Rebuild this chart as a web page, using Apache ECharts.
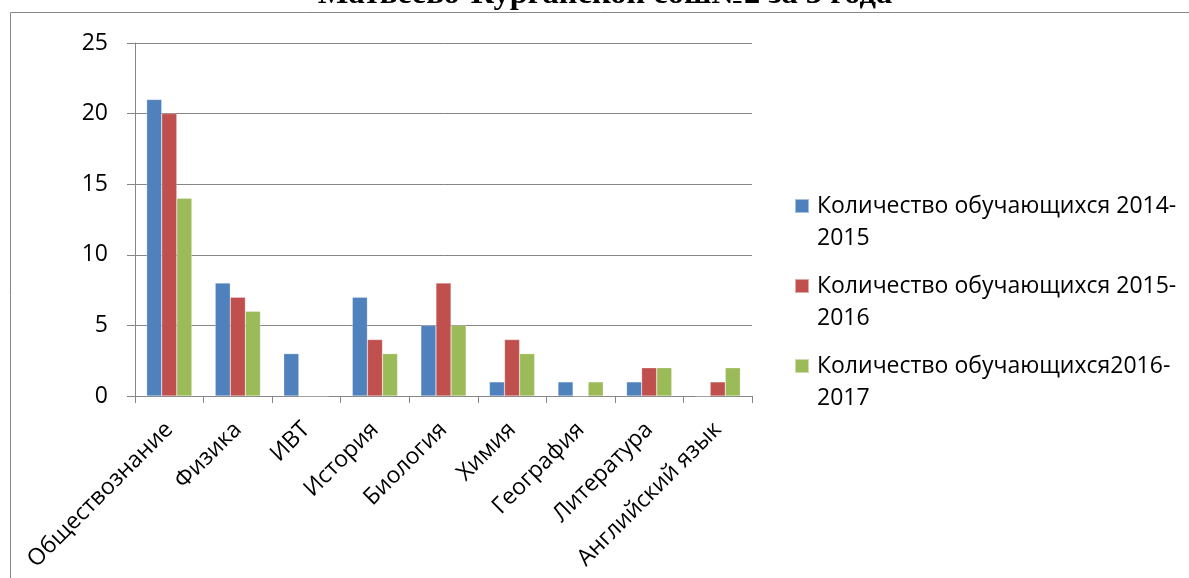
<!DOCTYPE html>
<html>
<head>
<meta charset="utf-8">
<script src="https://cdn.jsdelivr.net/npm/echarts@6/dist/echarts.min.js"></script>
<style>
html,body{margin:0;padding:0;background:#fff;}
#c{width:1189px;height:578px;}
</style>
</head>
<body>
<div id="c"></div>
<script>
const categories = ['Обществознание','Физика','ИВТ','История','Биология','Химия','География','Литература','Английский язык'];
const seriesNames = ['Количество обучающихся 2014-2015','Количество обучающихся 2015-2016','Количество обучающихся2016-2017'];
const values2014 = [21, 8, 3, 7, 5, 1, 1, 1, 0];
const values2015 = [20, 7, 0, 4, 8, 4, 0, 2, 1];
const values2016 = [14, 6, 0, 3, 5, 3, 1, 2, 2];
const yTicks = [0, 5, 10, 15, 20, 25];
const titleText = 'Матвеево-Курганской сош№2 за 3 года';

const colors = ['#4F81BD', '#C0504D', '#9BBB59'];
const font = 'Open Sans';
const fs = 23;
const chart = echarts.init(document.getElementById('c'), null, {renderer: 'canvas'});

const mk = (name, data, i) => ({
  name: name, type: 'bar', data: data,
  barGap: '0%', barCategoryGap: '34%',
  itemStyle: {color: colors[i], borderColor: 'rgba(255,255,255,0.5)', borderWidth: 0.5},
  emphasis: {disabled: true}
});

chart.setOption({
  animation: false,
  textStyle: {fontFamily: font},
  graphic: [
    {type: 'rect', shape: {x: 10.5, y: 12.5, width: 1300, height: 700}, style: {fill: null, stroke: '#868686', lineWidth: 1}, silent: true},
    {type: 'text', style: {text: titleText, x: 605, y: -5, textAlign: 'center', textVerticalAlign: 'middle', font: 'bold 32.5px "Liberation Serif"', fill: '#000'}, silent: true}
  ],
  legend: {
    orient: 'vertical', left: 794, top: 158, padding: 0,
    itemWidth: 14, itemHeight: 14, itemGap: -16,
    icon: 'rect',
    data: seriesNames,
    formatter: n => '\n' + n.replace(/-(\d{4})$/, '-\n$1'),
    textStyle: {fontFamily: font, fontSize: fs, color: '#000', lineHeight: 32, padding: [0,0,0,3]}
  },
  grid: {left: 135, right: 437, top: 43, bottom: 182, containLabel: false},
  xAxis: {
    type: 'category', data: categories,
    axisLine: {lineStyle: {color: '#868686', width: 1}},
    axisTick: {show: true, length: 7, interval: 0, lineStyle: {color: '#868686'}},
    axisLabel: {interval: 0, rotate: 45, color: '#000', fontFamily: font, fontSize: fs, margin: 30}
  },
  yAxis: {
    type: 'value', min: yTicks[0], max: yTicks[yTicks.length-1], interval: yTicks[1]-yTicks[0],
    axisLine: {show: true, lineStyle: {color: '#868686', width: 1}},
    axisTick: {show: true, length: 8, lineStyle: {color: '#868686'}},
    splitLine: {lineStyle: {color: '#868686', width: 1}},
    axisLabel: {color: '#000', fontFamily: font, fontSize: fs, margin: 27}
  },
  series: [mk(seriesNames[0], values2014, 0), mk(seriesNames[1], values2015, 1), mk(seriesNames[2], values2016, 2)]
});
</script>
</body>
</html>
